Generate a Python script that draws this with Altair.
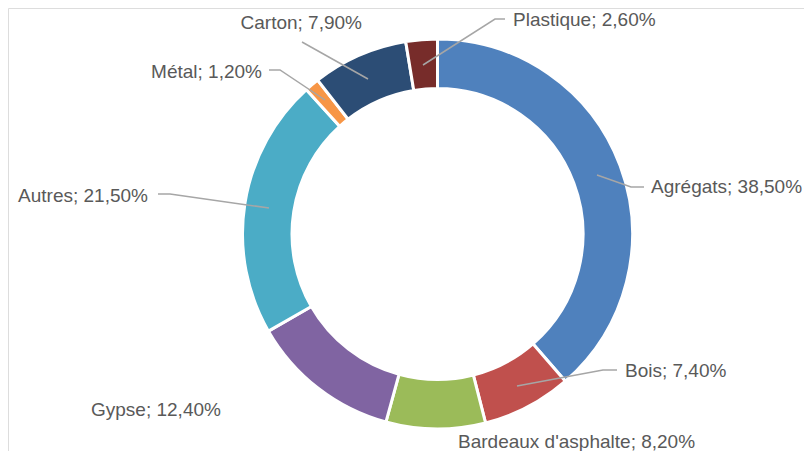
import altair as alt
import pandas as pd

categories = ["Agrégats", "Bois", "Bardeaux d'asphalte", "Gypse", "Autres", "Métal", "Carton", "Plastique"]
values = [38.5, 7.4, 8.2, 12.4, 21.5, 1.2, 7.9, 2.6]
colors = ["#4F81BD", "#C0504D", "#9BBB59", "#8064A2", "#4BACC6", "#F79646", "#2C4D75", "#772C2A"]

# label layout (chart coords = page coords - 8)
label_x = [643, 617, 450, 83, 140, 254, 354, 505]
label_y = [179, 363, 434, 402, 188, 64, 15, 12]
label_align = ["left", "left", "left", "left", "right", "right", "right", "left"]

# leader line paths (page coords), per category
leaders = {
    "Agrégats": [(597, 175), (631, 187), (644, 187)],
    "Bois": [(517, 386), (603, 370), (617, 370)],
    "Autres": [(269, 208), (170, 194), (158, 194)],
    "Métal": [(325, 100), (280, 70), (269, 70)],
    "Carton": [(368, 79), (302, 42)],
    "Plastique": [(423, 65), (495, 19), (505, 19)],
}

def fmt(v):
    return f"{v:.2f}".replace(".", ",") + "%"

df = pd.DataFrame({
    "cat": categories,
    "val": values,
    "order": list(range(len(categories))),
    "label": [f"{c}; {fmt(v)}" for c, v in zip(categories, values)],
    "lx": label_x,
    "ly": label_y,
    "align": label_align,
})

rows = []
for c, pts in leaders.items():
    for i, (px, py) in enumerate(pts):
        rows.append({"cat": c, "i": i, "px": px - 8, "py": py - 8})
ldf = pd.DataFrame(rows)

cx, cy = 437.5 - 8, 234 - 8

arcs = alt.Chart(df).mark_arc(
    outerRadius=195, innerRadius=145.5, stroke="white", strokeWidth=3
).encode(
    theta=alt.Theta("val:Q", stack=True),
    order=alt.Order("order:Q"),
    color=alt.Color("cat:N", scale=alt.Scale(domain=categories, range=colors), legend=None),
    x=alt.value(cx),
    y=alt.value(cy),
)

lines = alt.Chart(ldf).mark_line(color="#A6A6A6", strokeWidth=1.5).encode(
    x=alt.X("px:Q", scale=None, axis=None),
    y=alt.Y("py:Q", scale=None, axis=None),
    detail="cat:N",
    order="i:Q",
)

def text_layer(align):
    return alt.Chart(df[df["align"] == align]).mark_text(
        align=align, baseline="middle", font="Liberation Sans",
        fontSize=19, color="#595959"
    ).encode(
        x=alt.X("lx:Q", scale=None, axis=None),
        y=alt.Y("ly:Q", scale=None, axis=None),
        text="label:N",
    )

chart = alt.layer(arcs, lines, text_layer("left"), text_layer("right")).properties(
    width=796, height=443, padding=0, autosize="none"
).configure_view(stroke="transparent").configure(background="white")

chart.save("out.html", embed_options={"renderer": "svg", "actions": False})
